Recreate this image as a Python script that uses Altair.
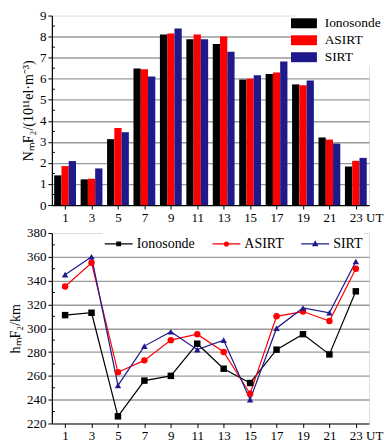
import altair as alt
import pandas as pd

hours = [1, 3, 5, 7, 9, 11, 13, 15, 17, 19, 21, 23]
series = ["Ionosonde", "ASIRT", "SIRT"]
colors = ["#000000", "#ff0000", "#1f1a8c"]

nm_iono = [1.41, 1.22, 3.13, 6.49, 8.10, 7.88, 7.65, 5.96, 6.22, 5.73, 3.21, 1.83]
nm_asirt = [1.85, 1.25, 3.66, 6.45, 8.15, 8.10, 8.00, 6.00, 6.30, 5.69, 3.11, 2.10]
nm_sirt = [2.09, 1.74, 3.46, 6.11, 8.39, 7.88, 7.28, 6.16, 6.82, 5.92, 2.92, 2.24]

hm_iono = [311, 313, 226, 256, 260, 287, 266, 254, 282, 295, 278, 331]
hm_asirt = [335, 355, 263, 273, 290, 295, 280, 245, 310, 314, 306, 350]
hm_sirt = [345, 360, 252, 285, 297, 282, 290, 240, 300, 317, 313, 356]

nm_ticks = [0, 1, 2, 3, 4, 5, 6, 7, 8, 9]
nm_minor = [0.5, 1.5, 2.5, 3.5, 4.5, 5.5, 6.5, 7.5, 8.5]
hm_ticks = [220, 240, 260, 280, 300, 320, 340, 360, 380]
hm_minor = [230, 250, 270, 290, 310, 330, 350, 370]

FONT = "Liberation Serif, Times New Roman, serif"
GRID = "#9a9a9a"

def frame(vals):
    rows = []
    for i, (name, arr) in enumerate(zip(series, vals)):
        for h, v in zip(hours, arr):
            rows.append({"hour": h, "value": v, "series": name, "idx": i})
    return pd.DataFrame(rows)

df_nm = frame([nm_iono, nm_asirt, nm_sirt])
df_hm = frame([hm_iono, hm_asirt, hm_sirt])

W, H1, H2 = 318, 190, 191
xscale = alt.Scale(domain=[0, 24], nice=False, zero=False)

def x_axis():
    return alt.Axis(
        values=hours, title=None, grid=False, labelOverlap=False,
        labelExpr="datum.value == 23 ? '23 UT' : datum.label",
        labelAlign={"condition": {"test": "datum.value == 23", "value": "left"}, "value": "center"},
        labelOffset={"condition": {"test": "datum.value == 23", "value": -6.5}, "value": 0},
        tickSize=4, tickColor="black", domainColor="black", domainWidth=1.2, tickWidth=1,
        labelFont=FONT, labelFontSize=13, labelColor="black", labelPadding=2,
    )

def y_axis(vals, title, lo, hi):
    return alt.Axis(
        values=vals, title=title, grid=True, labelOverlap=False,
        gridColor={"condition": {"test": f"datum.value == {lo} || datum.value == {hi}", "value": "transparent"}, "value": GRID},
        gridWidth=1.4,
        tickSize=4, tickColor="black", domainColor="black", domainWidth=1.2,
        labelFont=FONT, labelFontSize=13, labelColor="black", labelPadding=2,
        titleFont=FONT, titleFontSize=14, titleFontWeight="normal", titleColor="black",
        titlePadding=4,
    )

TOP_TITLE = "NₘF₂/(10¹¹el·m⁻³)"
BOT_TITLE = "hₘF₂/km"

color_scale = alt.Scale(domain=series, range=colors)
yscale1 = alt.Scale(domain=[0, 9], nice=False)

bars = alt.Chart(df_nm).transform_calculate(
    x0="datum.hour + (datum.idx - 1.5) * 0.55",
    x1="datum.hour + (datum.idx - 0.5) * 0.55",
).mark_bar(stroke=None).encode(
    x=alt.X("x0:Q", scale=xscale, axis=x_axis()),
    x2="x1:Q",
    y=alt.Y("value:Q", scale=yscale1, axis=y_axis(nm_ticks, TOP_TITLE, 0, 9)),
    y2=alt.datum(0),
    color=alt.Color("series:N", scale=color_scale, legend=alt.Legend(
        title=None, orient="none", legendX=244, legendY=-1,
        symbolType="M-2.6,-1H2.6V1H-2.6Z", symbolSize=100, symbolStrokeWidth=0,
        labelFont=FONT, labelFontSize=13.5, labelColor="black", labelOffset=14,
        rowPadding=2, fillColor="white", padding=2,
    )),
)

minor_top = alt.Chart(pd.DataFrame({"m": nm_minor})).mark_rule(color="black", strokeWidth=1).encode(
    y=alt.Y("m:Q", scale=yscale1, axis=y_axis(nm_ticks, TOP_TITLE, 0, 9)),
    x=alt.value(0), x2=alt.value(3),
)

top = alt.layer(bars, minor_top).properties(width=W, height=H1)

yscale2 = alt.Scale(domain=[220, 380], nice=False, zero=False)

def xenc():
    return alt.X("hour:Q", scale=xscale, axis=x_axis())

def yenc():
    return alt.Y("value:Q", scale=yscale2, axis=y_axis(hm_ticks, BOT_TITLE, 220, 380))

lines = alt.Chart(df_hm).mark_line(strokeWidth=1.2).encode(
    x=xenc(), y=yenc(),
    color=alt.Color("series:N", scale=color_scale, legend=None),
)

points = alt.Chart(df_hm).mark_point(filled=True, opacity=1, size=42).encode(
    x=xenc(), y=yenc(),
    color=alt.Color("series:N", scale=color_scale, legend=None),
    shape=alt.Shape("series:N", scale=alt.Scale(domain=series, range=["square", "circle", "triangle-up"]), legend=None),
)

leg_paths = [
    "M-1,0H1M-0.13,-0.13H0.13V0.13H-0.13Z",
    "M-1,0H1M0.14,0A0.14,0.14,0,1,1,-0.14,0A0.14,0.14,0,1,1,0.14,0Z",
    "M-1,0H1M0,-0.17L0.16,0.12H-0.16Z",
]

def leg():
    return alt.Legend(
        title=None, orient="none", legendX=51, legendY=-5, direction="horizontal",
        columns=3, symbolSize=784, symbolStrokeWidth=1.2, columnPadding=14,
        labelFont=FONT, labelFontSize=14, labelColor="black", labelOffset=3,
        fillColor="white", padding=1,
    )

legend_layer = alt.Chart(df_hm).transform_filter("false").mark_point(filled=True, opacity=1, size=784).encode(
    x=xenc(), y=yenc(),
    color=alt.Color("series:N", scale=color_scale, legend=leg()),
    stroke=alt.Stroke("series:N", scale=color_scale, legend=leg()),
    shape=alt.Shape("series:N", scale=alt.Scale(domain=series, range=leg_paths), legend=leg()),
)

minor_bot = alt.Chart(pd.DataFrame({"m": hm_minor})).mark_rule(color="black", strokeWidth=1).encode(
    y=alt.Y("m:Q", scale=yscale2, axis=y_axis(hm_ticks, BOT_TITLE, 220, 380)),
    x=alt.value(0), x2=alt.value(3),
)

bottom = alt.layer(lines, points, legend_layer, minor_bot).resolve_scale(
    color="independent", shape="independent", stroke="independent"
).properties(width=W, height=H2)

chart = alt.vconcat(top, bottom, spacing=28, bounds="flush").properties(
    padding={"left": 0, "top": 0, "right": 0, "bottom": 0}
).configure_view(stroke=None).configure(font=FONT)

chart.save("out.html", embed_options={"renderer": "svg", "actions": False})
